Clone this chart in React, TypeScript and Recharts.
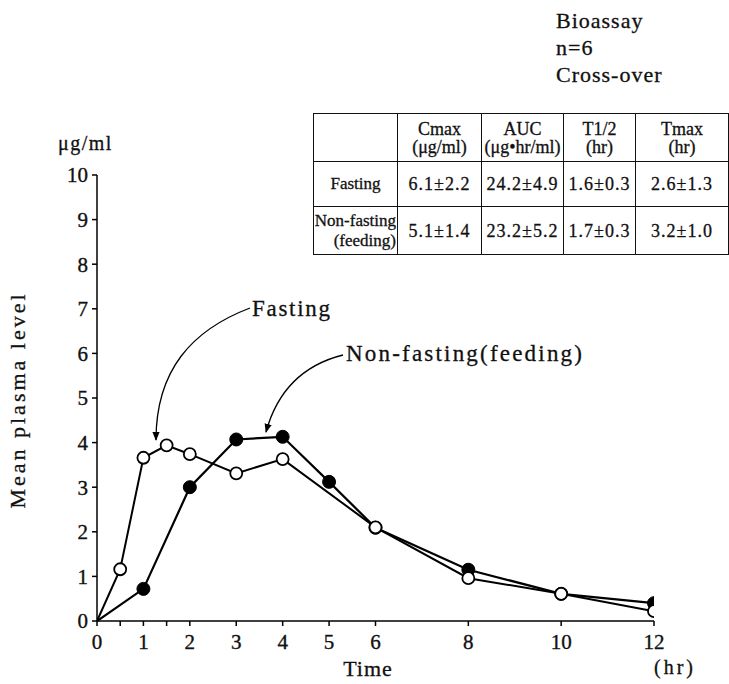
import { LineChart, Line, XAxis, YAxis } from 'recharts'

// time points (hr) and mean plasma level (ug/ml)
const fastingTimes = [0, 0.5, 1, 1.5, 2, 3, 4, 6, 8, 10, 12]
const fastingLevels = [0, 1.16, 3.66, 3.94, 3.74, 3.31, 3.63, 2.1, 0.96, 0.61, 0.22]

const feedingTimes = [0, 1, 2, 3, 4, 5, 6, 8, 10, 12]
const feedingLevels = [0, 0.72, 3.0, 4.07, 4.13, 3.12, 2.09, 1.15, 0.61, 0.4]

const xTicks = [0, 0.5, 1, 1.5, 2, 3, 4, 5, 6, 8, 10, 12]
const yTicks = [0, 1, 2, 3, 4, 5, 6, 7, 8, 9, 10]

const tableHead = ['', 'Cmax\n(μg/ml)', 'AUC\n(μg•hr/ml)', 'T1/2\n(hr)', 'Tmax\n(hr)']
const fastingRow = ['Fasting', '6.1±2.2', '24.2±4.9', '1.6±0.3', '2.6±1.3']
const feedingRow = ['Non-fasting\n(feeding)', '5.1±1.4', '23.2±5.2', '1.7±0.3', '3.2±1.0']

const notes = ['Bioassay', 'n=6', 'Cross-over']

const fastingData = fastingTimes.map((t, i) => ({ t, v: fastingLevels[i] }))
const feedingData = feedingTimes.map((t, i) => ({ t, v: feedingLevels[i] }))

const FONT = '"Liberation Serif", "DejaVu Serif", serif'
const INK = '#111'

const openDot = (p: any) =>
  p.payload.t === 0 ? (
    <g key={`o${p.index}`} />
  ) : (
    <circle key={`o${p.index}`} cx={p.cx} cy={p.cy} r={6} fill="#fff" stroke="#000" strokeWidth={1.8} />
  )

const filledDot = (p: any) =>
  p.payload.t === 0 ? (
    <g key={`f${p.index}`} />
  ) : (
    <circle key={`f${p.index}`} cx={p.cx} cy={p.cy} r={6.5} fill="#000" stroke="#000" strokeWidth={1} />
  )

const colW = [84, 84, 82, 72, 93]
const rowH = [48, 45, 48]

function StatsTable() {
  const rows = [tableHead, fastingRow, feedingRow]
  return (
    <table
      style={{
        position: 'absolute',
        left: 313,
        top: 113,
        borderCollapse: 'collapse',
        tableLayout: 'fixed',
        fontFamily: FONT,
        color: INK,
        WebkitTextStroke: '0.3px #111',
      }}
    >
      <tbody>
        {rows.map((r, ri) => (
          <tr key={ri} style={{ height: rowH[ri] }}>
            {r.map((c, ci) => (
              <td
                key={ci}
                style={{
                  width: colW[ci],
                  border: '1.5px solid #111',
                  padding: ci === 0 && ri === 2 ? '0 1px 0 0' : 0,
                  textAlign: ci === 0 && ri === 2 ? 'right' : 'center',
                  whiteSpace: 'pre',
                  fontSize: ci === 0 ? 17 : 18,
                  lineHeight: ri === 0 ? '18px' : '20px',
                  letterSpacing: ri > 0 && ci > 0 ? 1 : 0,
                  boxSizing: 'border-box',
                }}
              >
                {c}
              </td>
            ))}
          </tr>
        ))}
      </tbody>
    </table>
  )
}

export default function App() {
  return (
    <div style={{ position: 'absolute', left: 0, top: 0, width: 729, height: 684, background: '#fff' }}>
      <style>{`.recharts-cartesian-axis-tick-value{font-family:${FONT};stroke:#111;stroke-width:0.35px;}`}</style>
      <LineChart
        width={729}
        height={684}
        margin={{ top: 175, right: 75, bottom: 23, left: 0 }}
        style={{ fontFamily: FONT }}
      >
        <XAxis
          dataKey="t"
          type="number"
          domain={[0, 12]}
          ticks={xTicks}
          tickFormatter={(v: number) => (Number.isInteger(v) ? String(v) : '')}
          height={40}
          tickSize={5}
          tickMargin={8}
          stroke="#000"
          strokeWidth={1.5}
          tick={{ fill: INK, fontSize: 21 }}
          allowDataOverflow
        />
        <YAxis
          type="number"
          domain={[0, 10]}
          ticks={yTicks}
          width={97}
          tickSize={5}
          tickMargin={4}
          stroke="#000"
          strokeWidth={1.5}
          tick={{ fill: INK, fontSize: 21 }}
        />
        <Line
          data={feedingData}
          dataKey="v"
          stroke="#000"
          strokeWidth={2.2}
          dot={filledDot}
          isAnimationActive={false}
        />
        <Line
          data={fastingData}
          dataKey="v"
          stroke="#000"
          strokeWidth={2}
          dot={openDot}
          isAnimationActive={false}
        />
      </LineChart>

      <StatsTable />

      <svg
        width={729}
        height={684}
        style={{ position: 'absolute', left: 0, top: 0, pointerEvents: 'none', fontFamily: FONT }}
      >
        <defs>
          <marker id="ah" viewBox="0 0 10 10" refX="9" refY="5" markerWidth="7" markerHeight="7" orient="auto">
            <path d="M0,1 L10,5 L0,9 Z" fill="#000" />
          </marker>
        </defs>
        <g fill={INK} stroke={INK} strokeWidth={0.3}>
          {notes.map((n, i) => (
            <text key={n} x={556} y={28 + i * 27} fontSize={22} letterSpacing={1}>
              {n}
            </text>
          ))}
          <text x={58} y={150} fontSize={20} letterSpacing={1.5}>
            μg/ml
          </text>
          <text
            x={0}
            y={0}
            fontSize={22}
            textAnchor="middle"
            letterSpacing={3}
            transform="translate(25,400) rotate(-90)"
          >
            Mean plasma level
          </text>
          <text x={368} y={676} fontSize={22} textAnchor="middle" letterSpacing={1}>
            Time
          </text>
          <text x={654} y={674} fontSize={20} letterSpacing={3}>
            (hr)
          </text>
          <text x={252} y={316} fontSize={23} letterSpacing={1.7}>
            Fasting
          </text>
          <text x={346} y={361} fontSize={23} letterSpacing={2.2}>
            Non-fasting(feeding)
          </text>
        </g>
        <path d="M250,308 C192,330 156,370 156,440" fill="none" stroke="#000" strokeWidth={1.3} markerEnd="url(#ah)" />
        <path d="M343,355 Q283,370 266,432" fill="none" stroke="#000" strokeWidth={1.3} markerEnd="url(#ah)" />
      </svg>
    </div>
  )
}
